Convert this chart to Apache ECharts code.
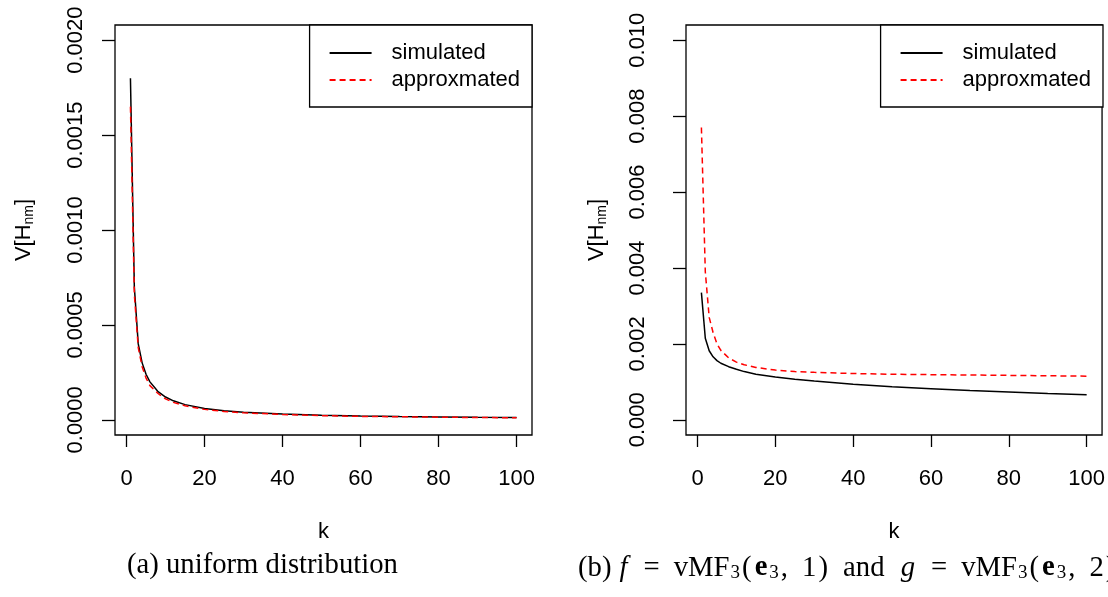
<!DOCTYPE html>
<html>
<head>
<meta charset="utf-8">
<script src="https://cdn.jsdelivr.net/npm/echarts@6/dist/echarts.min.js"></script>
<style>
html,body{margin:0;padding:0;background:#fff;}
#chart{width:1108px;height:597px;}
</style>
</head>
<body>
<div id="chart"></div>
<script>
// k values (x positions)
const kValues = [1, 2, 3, 4, 5, 6, 8, 10, 12, 15, 20, 25, 30, 40, 50, 60, 70, 80, 90, 100];

// (a) uniform distribution
const simulatedA = [0.00180, 0.00070, 0.00040, 0.00030, 0.00024, 0.00020, 0.00015, 0.00012, 0.00010, 0.00008,
                    0.00006, 0.000048, 0.00004, 0.00003, 0.000024, 0.00002, 0.000017, 0.000015, 0.000013, 0.000012];
const approxA    = [0.00165, 0.00066, 0.00038, 0.00028, 0.00022, 0.00018, 0.00014, 0.00011, 0.000092, 0.000074,
                    0.000055, 0.000044, 0.000037, 0.000028, 0.000022, 0.000018, 0.000016, 0.000014, 0.000012, 0.000011];

// (b) vMF
const simulatedB = [0.00335, 0.00215, 0.00182, 0.00166, 0.00156, 0.00149, 0.00140, 0.00133, 0.00127, 0.00120,
                    0.00113, 0.00107, 0.00102, 0.00094, 0.00087, 0.00082, 0.00077, 0.00073, 0.00069, 0.00066];
const approxB    = [0.0077, 0.0039, 0.0027, 0.0023, 0.0020, 0.00183, 0.00163, 0.00152, 0.00145, 0.00138,
                    0.00131, 0.00127, 0.00125, 0.00122, 0.00120, 0.00119, 0.00118, 0.00117, 0.00116, 0.00115];

// tick labels
const xTicks = [0, 20, 40, 60, 80, 100];
const yTicksA = [0, 0.0005, 0.0010, 0.0015, 0.0020];
const yTicksB = [0, 0.002, 0.004, 0.006, 0.008, 0.010];

const seriesNames = ['simulated', 'approxmated'];

const pairs = (ys) => kValues.map((k, i) => [k, ys[i]]);

const FONT = '"Liberation Sans", Arial, Helvetica, sans-serif';
const SERIF = '"Liberation Serif", "Times New Roman", serif';

function xAxisOpt(gridIndex) {
  return {
    type: 'value', gridIndex: gridIndex,
    min: -2.96, max: 103.96,
    name: 'k', nameLocation: 'middle', nameGap: 86,
    nameTextStyle: {fontFamily: FONT, fontSize: 22, color: '#000'},
    axisLine: {show: false, onZero: false},
    splitLine: {show: false},
    axisTick: {show: true, inside: false, length: 12, customValues: xTicks, lineStyle: {color: '#000', width: 1.3}},
    axisLabel: {customValues: xTicks, margin: 33, fontFamily: FONT, fontSize: 22, color: '#000',
                formatter: (v) => String(Math.round(v))}
  };
}

function yAxisOpt(gridIndex, min, max, ticks, digits, labelMargin, nameGap) {
  return {
    type: 'value', gridIndex: gridIndex,
    min: min, max: max,
    name: 'V[H{sub|nm}]', nameLocation: 'middle', nameGap: nameGap, nameRotate: 90,
    nameTextStyle: {fontFamily: FONT, fontSize: 22, color: '#000', lineHeight: 30,
      rich: {sub: {fontFamily: FONT, fontSize: 14, color: '#000', verticalAlign: 'bottom', lineHeight: 14, padding: [0, 0, 3, 0]}}},
    axisLine: {show: false, onZero: false},
    splitLine: {show: false},
    axisTick: {show: true, inside: false, length: 13, customValues: ticks, lineStyle: {color: '#000', width: 1.3}},
    axisLabel: {customValues: ticks, rotate: 90, margin: labelMargin, fontFamily: FONT, fontSize: 22, color: '#000',
                formatter: (v) => v.toFixed(digits)}
  };
}

function lineSeries(name, idx, data, color, dashed) {
  return {
    type: 'line', name: name, xAxisIndex: idx, yAxisIndex: idx,
    data: data, symbol: 'none', smooth: false, z: dashed ? 3 : 2,
    lineStyle: {color: color, width: 1.5, type: dashed ? [6, 4] : 'solid'},
    itemStyle: {color: color},
    emphasis: {disabled: true}
  };
}

function legendOpt(right) {
  return {
    orient: 'vertical', right: right, top: 25,
    data: seriesNames,
    backgroundColor: '#fff',
    borderColor: '#000', borderWidth: 1.3, borderRadius: 0,
    padding: [17, 12, 16, 19],
    itemWidth: 42, itemHeight: 14, itemGap: 5,
    selectedMode: false,
    itemStyle: {opacity: 0},
    textStyle: {fontFamily: FONT, fontSize: 22, color: '#000', lineHeight: 22, padding: [0, 0, 0, 15]}
  };
}

const chart = echarts.init(document.getElementById('chart'), null, {renderer: 'canvas'});
chart.setOption({
  animation: false,
  backgroundColor: '#fff',
  grid: [
    {left: 115, top: 25, width: 417, height: 410, show: true, borderColor: '#000', borderWidth: 1.3, backgroundColor: 'transparent'},
    {left: 686, top: 25, width: 417, height: 410, show: true, borderColor: '#000', borderWidth: 1.3, backgroundColor: 'transparent'}
  ],
  xAxis: [xAxisOpt(0), xAxisOpt(1)],
  yAxis: [
    yAxisOpt(0, -0.00008, 0.00208, yTicksA, 4, 28, 76),
    yAxisOpt(1, -0.0004, 0.0104, yTicksB, 3, 37, 74)
  ],
  legend: [legendOpt(1108 - 532), legendOpt(5)],
  series: [
    lineSeries(seriesNames[0], 0, pairs(simulatedA), '#000000', false),
    lineSeries(seriesNames[1], 0, pairs(approxA), '#ff0000', true),
    lineSeries(seriesNames[0], 1, pairs(simulatedB), '#000000', false),
    lineSeries(seriesNames[1], 1, pairs(approxB), '#ff0000', true)
  ],
  graphic: [
    {type: 'text', left: 127, top: 551,
     style: {text: '(a) uniform distribution', fontFamily: SERIF, fontSize: 28.7, fill: '#000'}},
    {type: 'text', left: 578, top: 551,
     style: {
       text: '(b) {i|f}{eq|=}vMF{s|3}({b|e}{s|3},{c|1}) {and|and} {i|g}{eq|=}vMF{s|3}({b|e}{s|3},{c|2})',
       fontFamily: SERIF, fontSize: 28.7, fill: '#000', lineHeight: 34,
       rich: {
         i: {fontFamily: SERIF, fontSize: 28.7, fontStyle: 'italic', fill: '#000', lineHeight: 34, padding: [0, 2, 0, 1]},
         b: {fontFamily: SERIF, fontSize: 28.7, fontWeight: 'bold', fill: '#000', lineHeight: 34, padding: [0, 1, 0, 3]},
         eq: {fontFamily: SERIF, fontSize: 28.7, fill: '#000', lineHeight: 34, padding: [0, 14, 0, 14]},
         c: {fontFamily: SERIF, fontSize: 28.7, fill: '#000', lineHeight: 34, padding: [0, 2, 0, 14]},
         and: {fontFamily: SERIF, fontSize: 28.7, fill: '#000', lineHeight: 34, padding: [0, 8, 0, 8]},
         s: {fontFamily: SERIF, fontSize: 19, fill: '#000', verticalAlign: 'bottom', lineHeight: 19, padding: [0, 2, 2, 1]}
       }
     }}
  ]
});
</script>
</body>
</html>
